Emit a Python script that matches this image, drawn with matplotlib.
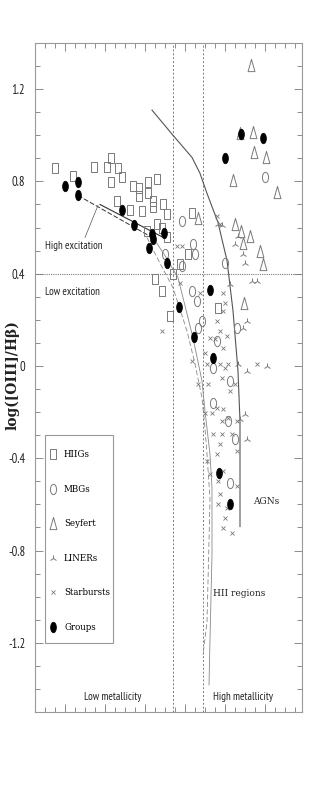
import matplotlib
matplotlib.use("Agg")
import matplotlib.pyplot as plt
from matplotlib.path import Path
from matplotlib.patches import Rectangle
from matplotlib.transforms import Affine2D

# x is in arbitrary units (axis has no labels), y is log([OIII]/Hb)
hiig_x = [2.0, 3.8, 5.9, 7.2, 7.6, 7.6, 8.3, 8.7, 8.2, 9.8, 10.4, 11.3, 12.2, 10.4, 11.3,
          11.8, 9.5, 10.7, 11.8, 12.8, 13.2, 11.2, 12.2, 12.7, 13.2, 15.7, 15.3, 14.5,
          13.8, 12.0, 12.7, 13.5, 18.3]
hiig_y = [0.857, 0.822, 0.861, 0.861, 0.90, 0.796, 0.857, 0.817, 0.717, 0.778, 0.770,
          0.796, 0.809, 0.735, 0.748, 0.717, 0.674, 0.670, 0.687, 0.704, 0.657, 0.587,
          0.617, 0.600, 0.557, 0.661, 0.487, 0.443, 0.400, 0.378, 0.326, 0.217, 0.252]

mbg_x = [14.7, 23.0, 15.8, 16.0, 13.0, 19.0, 14.7, 15.7, 16.2, 16.7, 16.3, 18.2, 20.2,
         17.8, 19.5, 17.8, 19.3, 20.0, 19.5]
mbg_y = [0.630, 0.817, 0.530, 0.487, 0.487, 0.448, 0.435, 0.326, 0.283, 0.196, 0.165,
         0.109, 0.165, -0.009, -0.065, -0.161, -0.239, -0.317, -0.509]

sey_x = [21.6, 21.8, 20.5, 21.9, 23.1, 19.8, 24.2, 16.3, 20.0, 20.6, 21.5, 20.8, 22.5,
         22.8, 20.9]
sey_y = [1.304, 1.013, 1.009, 0.926, 0.904, 0.804, 0.752, 0.643, 0.617, 0.587, 0.565,
         0.535, 0.500, 0.443, 0.274]

liner_x = [18.3, 18.7, 20.3, 20.0, 20.8, 21.0, 19.5, 21.7, 22.2, 21.2, 20.8, 20.3, 21.2,
           23.2, 21.0, 21.2, 20.5]
liner_y = [0.617, 0.609, 0.565, 0.530, 0.487, 0.448, 0.357, 0.370, 0.370, 0.196, 0.165,
           0.009, -0.022, 0.0, -0.209, -0.317, -0.230]

sb_x = [18.2, 18.5, 14.2, 14.7, 14.5, 12.7, 16.5, 18.2, 18.8, 19.0, 18.8, 18.5, 17.5,
        18.0, 19.2, 18.8, 17.0, 17.2, 15.7, 16.3, 17.3, 18.5, 19.0, 19.3, 18.7, 19.5,
        20.0, 17.0, 17.7, 18.2, 18.8, 18.7, 19.3, 20.2, 17.8, 18.7, 19.7, 18.5, 20.2,
        17.2, 18.2, 18.8, 17.5, 18.3, 20.2, 18.5, 18.3, 19.2, 19.0, 18.8, 19.7, 22.2]
sb_y = [0.652, 0.617, 0.522, 0.522, 0.361, 0.152, 0.317, 0.196, 0.317, 0.274, 0.239,
        0.152, 0.122, 0.117, 0.130, 0.078, 0.057, 0.009, 0.022, -0.078, -0.078, 0.009,
        -0.009, 0.009, -0.052, -0.109, -0.078, -0.204, -0.204, -0.183, -0.187, -0.239,
        -0.226, -0.239, -0.296, -0.296, -0.296, -0.339, -0.370, -0.413, -0.383, -0.457,
        -0.470, -0.500, -0.522, -0.557, -0.600, -0.617, -0.661, -0.704, -0.726, 0.009]

grp_x = [3.0, 4.3, 4.3, 8.7, 9.9, 11.7, 11.8, 12.9, 11.4, 13.2, 14.4, 15.9, 17.5, 17.8,
         18.4, 19.5, 20.6, 22.8, 19.0]
grp_y = [0.778, 0.796, 0.739, 0.678, 0.609, 0.574, 0.552, 0.578, 0.513, 0.448, 0.257,
         0.126, 0.330, 0.035, -0.465, -0.600, 1.004, 0.987, 0.900]

# demarcation curves
agn_x = [11.7, 13.8, 15.7, 16.5, 17.2, 18.3, 19.2, 19.8, 20.3, 20.5, 20.5]
agn_y = [1.109, 1.0, 0.904, 0.835, 0.748, 0.622, 0.457, 0.239, -0.022, -0.239, -0.696]
hii_r_x = [11.8, 13.0, 14.3, 15.8, 16.7, 17.0, 17.5, 17.7, 17.7, 17.5, 17.4]
hii_r_y = [0.557, 0.478, 0.383, 0.122, -0.065, -0.196, -0.383, -0.530, -0.817, -1.183, -1.383]
hii_l_x = [11.2, 12.2, 13.8, 15.2, 16.0, 16.7, 17.0, 17.2, 17.5, 17.4, 17.2, 16.8]
hii_l_y = [0.557, 0.470, 0.339, 0.152, 0.009, -0.139, -0.270, -0.383, -0.574, -0.761, -1.109, -1.252]

# fits through the groups
fit1_x, fit1_y = [4.3, 12.0], [0.739, 0.550]
fit2_x, fit2_y = [6.5, 12.7], [0.700, 0.560]
ptr_x, ptr_y = [5.0, 6.3], [0.557, 0.696]

metal_lo, metal_hi = 13.8, 16.8
excit = 0.4

yticks = [-1.2, -0.8, -0.4, 0, 0.4, 0.8, 1.2]
ylabels = ['-1.2', '-0.8', '-0.4', '0', '0.4', '0.8', '1.2']

GRAY = '#7a7a7a'
narrow = ['PT Sans Narrow', 'Roboto Condensed', 'DejaVu Sans']
serif = ['DejaVu Serif']


def tall(path, sx):
    return Affine2D().scale(sx, 1.0).transform_path(path)


rect = Path([(-0.5, -0.5), (0.5, -0.5), (0.5, 0.5), (-0.5, 0.5), (-0.5, -0.5)],
            [Path.MOVETO, Path.LINETO, Path.LINETO, Path.LINETO, Path.CLOSEPOLY])
rect_m = tall(rect, 0.6)
ell_m = tall(Path.unit_circle(), 0.6)
ell_g = tall(Path.unit_circle(), 0.55)
tri_m = Path([(0, 0.5), (-0.28, -0.5), (0.28, -0.5), (0, 0.5)],
             [Path.MOVETO, Path.LINETO, Path.LINETO, Path.CLOSEPOLY])

fig = plt.figure(figsize=(3.19, 7.97), dpi=100)
ax = fig.add_axes([35 / 319, 85 / 797, 267 / 319, 669 / 797])

ax.axvline(metal_lo, color=GRAY, ls=(0, (2, 2)), lw=0.7)
ax.axvline(metal_hi, color=GRAY, ls=(0, (2, 2)), lw=0.7)
ax.axhline(excit, color=GRAY, ls=(0, (1, 1)), lw=0.8)

ax.plot(agn_x, agn_y, color='#555555', lw=0.8)
ax.plot(hii_r_x, hii_r_y, color='#888888', lw=0.6)
ax.plot(hii_l_x, hii_l_y, color='#888888', lw=0.6, ls=(0, (6, 3)))
ax.plot(fit1_x, fit1_y, color='#333333', lw=0.7, ls=(0, (5, 2)))
ax.plot(fit2_x, fit2_y, color='#333333', lw=0.8)
ax.plot(ptr_x, ptr_y, color='#555555', lw=0.5)

h1, = ax.plot(hiig_x, hiig_y, ls='none', marker=rect_m, ms=7.4, mfc='none', mec=GRAY, mew=0.7)
h2, = ax.plot(mbg_x, mbg_y, ls='none', marker=ell_m, ms=7.4, mfc='none', mec=GRAY, mew=0.7)
h3, = ax.plot(sey_x, sey_y, ls='none', marker=tri_m, ms=8.8, mfc='none', mec=GRAY, mew=0.7)
h4, = ax.plot(liner_x, liner_y, ls='none', marker='2', ms=4.8, mec=GRAY, mew=0.7)
h5, = ax.plot(sb_x, sb_y, ls='none', marker='x', ms=3.4, mec=GRAY, mew=0.6)
h6, = ax.plot(grp_x, grp_y, ls='none', marker=ell_g, ms=7.6, mfc='black', mec='black', mew=0.5)

ax.set_xlim(0, 26.7)
ax.set_ylim(-1.5, 1.4)
ax.set_xticks([3, 7, 11, 15, 19, 23])
ax.set_xticks(range(1, 27), minor=True)
ax.set_xticklabels([])
ax.set_yticks(yticks)
ax.set_yticklabels(ylabels, family=narrow, fontstretch='condensed', fontsize=9,
                   color='#222222')
ax.set_yticks([v / 10 for v in range(-14, 14)], minor=True)
ax.tick_params(which='both', direction='in', top=True, right=True, color=GRAY, width=0.6)
ax.tick_params(which='major', length=6, pad=7)
ax.tick_params(which='minor', length=3.5)
for s in ax.spines.values():
    s.set_color('#999999')
    s.set_linewidth(0.8)

tkw = dict(family=narrow, fontstretch='condensed', fontsize=7.8, color='#222222', va='center')
ax.text(1.0, 0.52, 'High excitation', **tkw)
ax.text(1.0, 0.32, 'Low excitation', **tkw)
ax.text(4.9, -1.435, 'Low metallicity', **tkw)
ax.text(17.8, -1.435, 'High metallicity', **tkw)
skw = dict(family=serif, fontstretch='condensed', fontsize=7.2, color='#222222', va='center')
ax.text(21.8, -0.587, 'AGNs', **skw)
ax.text(17.8, -0.987, 'HII regions', **skw)

fig.text(12 / 319, 1 - 375 / 797, 'log([OIII]/H\u03b2)', rotation=90, ha='center',
         va='center', family=serif, fontweight='bold', fontsize=10, color='#222222')

# legend box drawn separately so its padding can differ in x and y
ax.add_patch(Rectangle((0.0375, 0.1031), 0.2547, 0.3109, transform=ax.transAxes,
                       fill=True, facecolor='white', edgecolor='#999999', lw=0.8, zorder=4))
leg = ax.legend([h1, h2, h3, h4, h5, h6],
                ['HIIGs', 'MBGs', 'Seyfert', 'LINERs', 'Starbursts', 'Groups'],
                loc='upper left', bbox_to_anchor=(0.053, 0.391), borderaxespad=0,
                frameon=False, labelspacing=2.66, borderpad=0, handlelength=0.8,
                handletextpad=0.75, prop=dict(family=serif, stretch='condensed', size=6.9))
leg.set_zorder(5)

fig.savefig('out.png', dpi=100)
